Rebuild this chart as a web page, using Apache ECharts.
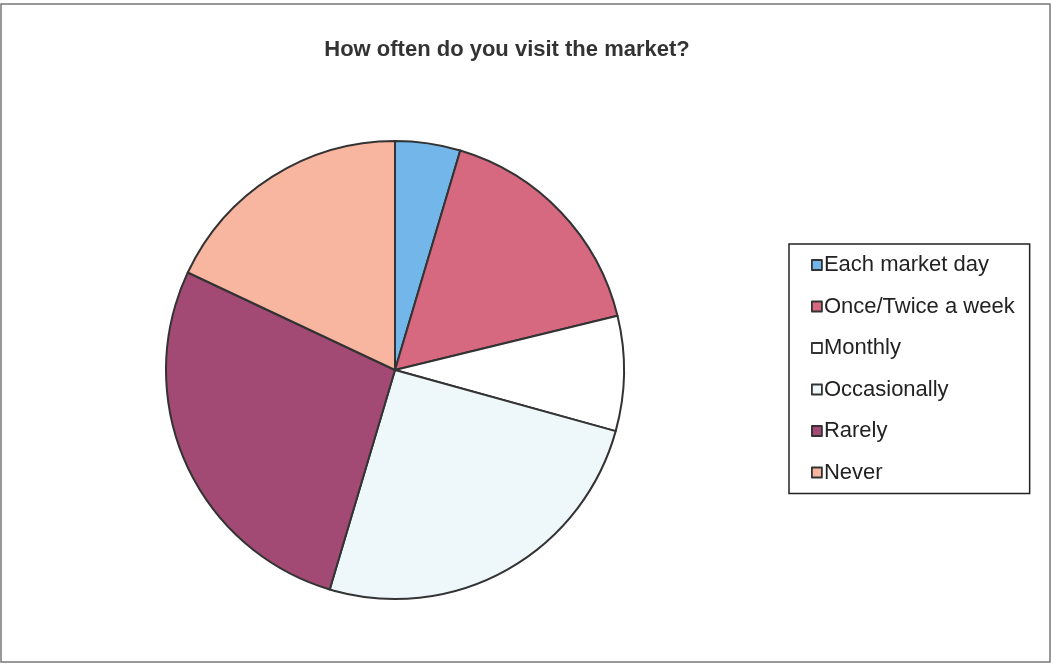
<!DOCTYPE html>
<html>
<head>
<meta charset="utf-8">
<script src="https://cdn.jsdelivr.net/npm/echarts@6/dist/echarts.min.js"></script>
<style>
  html, body { margin: 0; padding: 0; background: #fff; }
  #chart { width: 1053px; height: 665px; }
</style>
</head>
<body>
<div id="chart"></div>
<script>
// Survey answers, share of respondents (%)
const categories = ['Each market day', 'Once/Twice a week', 'Monthly', 'Occasionally', 'Rarely', 'Never'];
const shares = [4.6, 16.6, 8.1, 25.3, 27.4, 18.0];
const sliceColors = ['#72b6ea', '#d6687f', '#ffffff', '#eef8fb', '#a24a74', '#f8b6a0'];

const chart = echarts.init(document.getElementById('chart'), null, { renderer: 'canvas' });

chart.setOption({
  backgroundColor: '#ffffff',
  animation: false,
  title: {
    text: 'How often do you visit the market?',
    left: 502,
    top: 34,
    textAlign: 'center',
    textStyle: {
      fontFamily: 'Liberation Sans, Arial, sans-serif',
      fontSize: 22,
      fontWeight: 'bold',
      color: '#333333'
    }
  },
  legend: {
    orient: 'vertical',
    left: 789,
    top: 244,
    padding: [10, 15, 10, 22],
    itemWidth: 10,
    itemHeight: 10,
    itemGap: 19.5,
    icon: 'rect',
    borderColor: '#222222',
    borderWidth: 1.5,
    textStyle: {
      fontFamily: 'Liberation Sans, Arial, sans-serif',
      fontSize: 22,
      color: '#222222',
      padding: [0, 0, 0, -3]
    },
    itemStyle: { borderColor: '#333333', borderWidth: 1.8 },
    data: categories
  },
  graphic: [{
    type: 'rect',
    shape: { x: 1, y: 4, width: 1049, height: 658 },
    style: { fill: 'none', stroke: '#777777', lineWidth: 1.5 },
    silent: true
  }],
  series: [{
    type: 'pie',
    center: [395, 370],
    radius: 229,
    startAngle: 90,
    clockwise: true,
    label: { show: false },
    labelLine: { show: false },
    emphasis: { disabled: true },
    itemStyle: { borderColor: '#333333', borderWidth: 2 },
    data: categories.map((name, i) => ({
      name: name,
      value: shares[i],
      itemStyle: { color: sliceColors[i] }
    }))
  }]
});
</script>
</body>
</html>
